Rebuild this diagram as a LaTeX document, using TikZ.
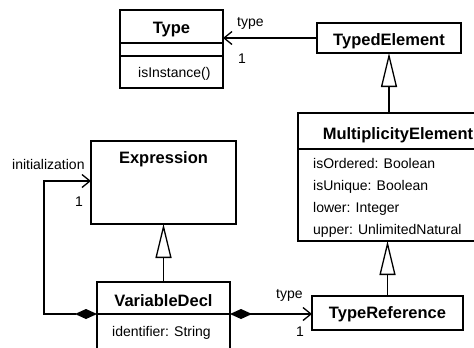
\documentclass[tikz,border=0pt]{standalone}
\usepackage{fontspec}
\setmainfont{Liberation Sans}
\usetikzlibrary{arrows.meta}
\begin{document}
\begin{tikzpicture}[x=1bp,y=-1bp,
  box/.style={draw, line width=1.6bp, rectangle, inner sep=0pt, outer sep=0pt},
  div/.style={line width=1.8bp},
  ttl/.style={anchor=base, inner sep=0pt, font=\fontsize{16.5bp}{19bp}\selectfont\bfseries},
  attr/.style={anchor=base west, inner sep=0pt, font=\fontsize{14bp}{17bp}\selectfont},
  lbl/.style={anchor=base west, inner sep=0pt, font=\fontsize{14bp}{17bp}\selectfont},
  nav/.style={line width=1.6bp, -{Straight Barb[length=8bp,width=13bp,line width=1.3bp]}},
  gen/.style={line width=1.6bp, -{Triangle[open,length=34bp,width=16bp,line width=1.3bp]}},
  barb/.tip={Straight Barb[length=8bp,width=13bp,line width=1.3bp]},
  dia/.tip={Diamond[length=22bp,width=10bp]},
]
\useasboundingbox (0,0) rectangle (474,347);
\clip (0,0) rectangle (474,347);

% Type
\node[box, minimum width=103bp, minimum height=78bp] (type) at (171.5,49) {};
\draw[div] (type.west |- 0,43) -- (type.east |- 0,43);
\draw[div] (type.west |- 0,56) -- (type.east |- 0,56);
\node[ttl] (typet) at (171.5,33) {Type};
\node[attr] (typea) at (138,77) {isInstance()};

% TypedElement
\node[box, minimum width=144bp, minimum height=30bp] (te) at (389,38) {};
\node[ttl] (tet) at (389,45) {TypedElement};

% MultiplicityElement
\node[box, minimum width=200bp, minimum height=128bp] (me) at (398,177) {};
\draw[div] (me.west |- 0,149) -- (me.east |- 0,149);
\node[ttl] (met) at (398,139) {MultiplicityElement};
\node[attr] (mea1) at (313,168) {isOrdered: Boolean};
\node[attr] (mea2) at (313,190) {isUnique: Boolean};
\node[attr] (mea3) at (313,212) {lower: Integer};
\node[attr] (mea4) at (313,234) {upper: UnlimitedNatural};

% Expression
\node[box, minimum width=145bp, minimum height=83bp] (ex) at (163.5,182.5) {};
\node[ttl] (ext) at (163.5,163) {Expression};

% VariableDecl
\node[box, minimum width=133bp, minimum height=32bp] (vdh) at (163.5,298) {};
\node[box, minimum width=133bp, minimum height=48bp] (vdb) at (163.5,338) {};
\node[ttl] (vdt) at (163.5,306) {VariableDecl};
\node[attr] (vda) at (112,336) {identifier: String};

% TypeReference
\node[box, minimum width=151bp, minimum height=34bp] (tr) at (387.5,313) {};
\node[ttl] (trt) at (387.5,318) {TypeReference};

% connectors
\draw[nav] (te.west) -- (te.west -| type.east);
\node[lbl] (l1) at (237,26) {type};
\node[lbl] (l2) at (238,63) {1};

\draw[gen] (me.north -| te.south) -- (te.south);
\draw[gen] (tr.north) -- (tr.north |- me.south);
\draw[gen] (vdh.north) -- (ex.south);

\coordinate (bend) at (44,181);
\draw[line width=1.2bp, {barb}-{dia}] (ex.west |- bend) -- (bend) |- (vdh.south west);
\node[lbl] (l3) at (12,169) {initialization};
\node[lbl] (l4) at (75,206) {1};

\draw[line width=1.6bp, {dia}-{barb}] (vdh.south east) -- (vdh.south east -| tr.west);
\node[lbl] (l5) at (276,298) {type};
\node[lbl] (l6) at (296,336) {1};
\end{tikzpicture}
\end{document}
